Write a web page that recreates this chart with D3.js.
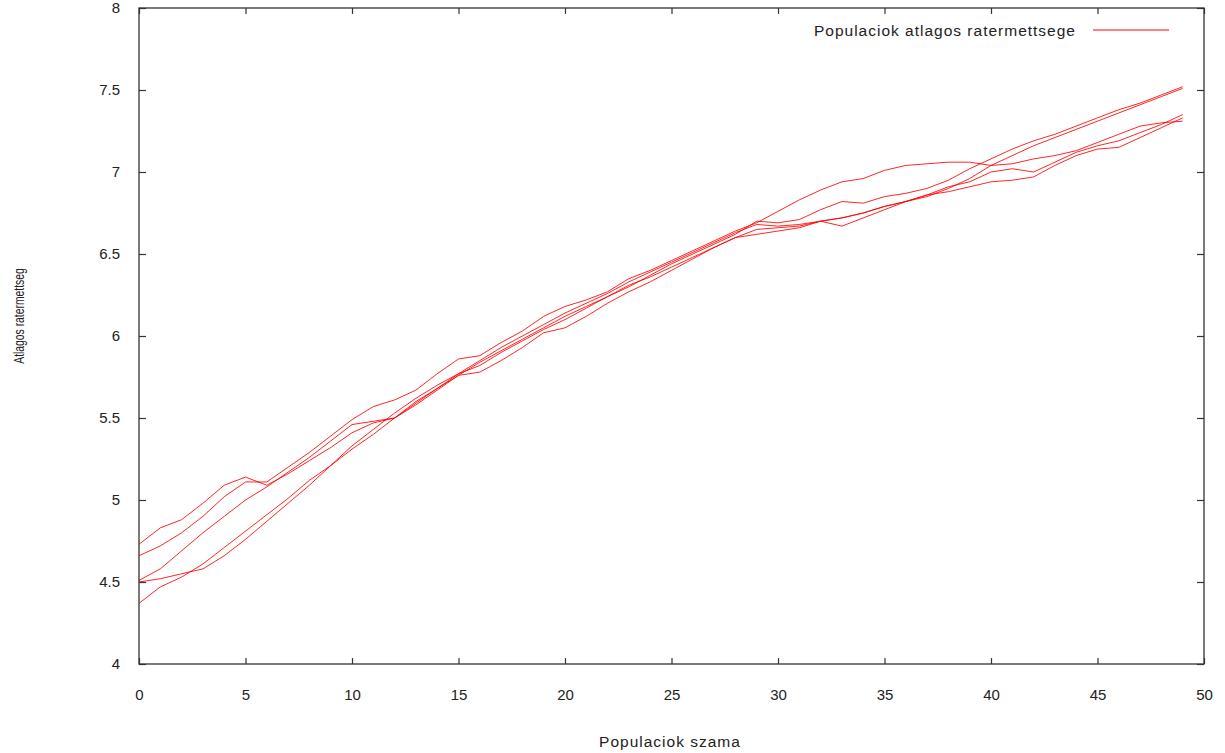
<!DOCTYPE html>
<html>
<head>
<meta charset="utf-8">
<script src="https://cdn.jsdelivr.net/npm/d3@7"></script>
<style>
  body { margin: 0; background: #fff; }
  .chart text { font-family: "Liberation Sans", Arial, sans-serif; fill: #222; }
</style>
</head>
<body>
<div class="chart"></div>
<script>
// x values: population index 0..49
var populations = d3.range(0, 50);

// five runs of the average fitness
var run1 = [4.73, 4.83, 4.88, 4.98, 5.09, 5.14, 5.09, 5.16, 5.24, 5.32,
            5.41, 5.47, 5.50, 5.58, 5.67, 5.76, 5.84, 5.91, 5.98, 6.05,
            6.12, 6.18, 6.24, 6.31, 6.36, 6.42, 6.48, 6.54, 6.60, 6.65,
            6.66, 6.67, 6.70, 6.72, 6.75, 6.79, 6.82, 6.85, 6.90, 6.96,
            7.04, 7.10, 7.16, 7.21, 7.26, 7.31, 7.36, 7.41, 7.46, 7.51];
var run2 = [4.66, 4.72, 4.80, 4.90, 5.02, 5.11, 5.11, 5.20, 5.29, 5.39,
            5.49, 5.57, 5.61, 5.67, 5.77, 5.86, 5.88, 5.96, 6.03, 6.12,
            6.18, 6.22, 6.27, 6.35, 6.40, 6.46, 6.52, 6.58, 6.64, 6.69,
            6.76, 6.83, 6.89, 6.94, 6.96, 7.01, 7.04, 7.05, 7.06, 7.06,
            7.04, 7.05, 7.08, 7.10, 7.13, 7.18, 7.23, 7.28, 7.30, 7.31];
var run3 = [4.51, 4.58, 4.69, 4.80, 4.90, 5.00, 5.08, 5.17, 5.26, 5.36,
            5.46, 5.48, 5.50, 5.59, 5.68, 5.77, 5.82, 5.90, 5.97, 6.04,
            6.10, 6.17, 6.24, 6.30, 6.37, 6.44, 6.50, 6.56, 6.62, 6.70,
            6.69, 6.71, 6.77, 6.82, 6.81, 6.85, 6.87, 6.90, 6.95, 7.02,
            7.08, 7.14, 7.19, 7.23, 7.28, 7.33, 7.38, 7.42, 7.47, 7.52];
var run4 = [4.50, 4.52, 4.55, 4.58, 4.66, 4.76, 4.87, 4.98, 5.09, 5.21,
            5.33, 5.43, 5.53, 5.62, 5.70, 5.77, 5.85, 5.93, 6.00, 6.07,
            6.14, 6.20, 6.26, 6.33, 6.39, 6.45, 6.51, 6.57, 6.63, 6.68,
            6.67, 6.68, 6.70, 6.67, 6.72, 6.77, 6.82, 6.86, 6.91, 6.94,
            7.00, 7.02, 7.00, 7.06, 7.12, 7.16, 7.19, 7.24, 7.29, 7.35];
var run5 = [4.37, 4.47, 4.53, 4.61, 4.71, 4.81, 4.91, 5.01, 5.12, 5.21,
            5.31, 5.40, 5.50, 5.60, 5.68, 5.76, 5.78, 5.85, 5.93, 6.02,
            6.05, 6.12, 6.20, 6.27, 6.33, 6.40, 6.47, 6.54, 6.60, 6.62,
            6.64, 6.66, 6.70, 6.72, 6.75, 6.79, 6.82, 6.86, 6.88, 6.91,
            6.94, 6.95, 6.97, 7.04, 7.10, 7.14, 7.15, 7.21, 7.27, 7.33];
var runs = [run1, run2, run3, run4, run5];

// ticks
var xTicks = [0, 5, 10, 15, 20, 25, 30, 35, 40, 45, 50];
var yTicks = [4, 4.5, 5, 5.5, 6, 6.5, 7, 7.5, 8];

var legendLabel = "Populaciok atlagos ratermettsege";
var xTitle = "Populaciok szama";
var yTitle = "Atlagos ratermettseg";

var svgWidth = 1225, svgHeight = 753;
var plotLeft = 139, plotRight = 1204, plotTop = 8, plotBottom = 664;

var svg = d3.select(".chart")
  .append("svg")
    .attr("width", svgWidth)
    .attr("height", svgHeight);

var x = d3.scaleLinear().domain([0, 50]).range([plotLeft, plotRight]);
var y = d3.scaleLinear().domain([4, 8]).range([plotBottom, plotTop]);

// the lines
var line = d3.line()
  .x(function(d, i) { return x(populations[i]); })
  .y(function(d) { return y(d); });

svg.append("g")
  .selectAll("path")
  .data(runs)
  .enter().append("path")
    .attr("d", line)
    .attr("fill", "none")
    .attr("stroke", "#ff0000")
    .attr("stroke-opacity", 0.85)
    .attr("stroke-width", 1);

// axes, ticks point inwards like gnuplot
var frameColor = "#333";
function styleAxis(g) {
  g.select(".domain").remove();
  g.selectAll(".tick line").attr("stroke", frameColor).attr("stroke-width", 1.2);
  g.selectAll(".tick text")
    .attr("fill", "#222")
    .style("font-size", "15px")
    .style("font-family", "'Liberation Sans', Arial, sans-serif");
}

svg.append("g")
  .attr("transform", "translate(0," + plotBottom + ")")
  .call(d3.axisBottom(x).tickValues(xTicks).tickSize(-6).tickPadding(25)
    .tickFormat(function(d) { return String(d); }))
  .call(styleAxis);

svg.append("g")
  .attr("transform", "translate(0," + plotTop + ")")
  .call(d3.axisTop(x).tickValues(xTicks).tickSize(-6).tickFormat(""))
  .call(styleAxis);

svg.append("g")
  .attr("transform", "translate(" + plotLeft + ",0)")
  .call(d3.axisLeft(y).tickValues(yTicks).tickSize(-7).tickPadding(19)
    .tickFormat(function(d) { return String(d); }))
  .call(styleAxis);

svg.append("g")
  .attr("transform", "translate(" + plotRight + ",0)")
  .call(d3.axisRight(y).tickValues(yTicks).tickSize(-7).tickFormat(""))
  .call(styleAxis);

// frame
svg.append("rect")
  .attr("x", plotLeft)
  .attr("y", plotTop)
  .attr("width", plotRight - plotLeft)
  .attr("height", plotBottom - plotTop)
  .attr("fill", "none")
  .attr("stroke", frameColor)
  .attr("stroke-width", 1.3);

// axis titles
svg.append("text")
  .attr("x", 670)
  .attr("y", 747)
  .style("text-anchor", "middle")
  .style("font-size", "15.5px")
  .style("letter-spacing", "1px")
  .text(xTitle);

svg.append("text")
  .attr("transform", "translate(24,316) rotate(-90) scale(0.74,1)")
  .style("text-anchor", "middle")
  .style("font-size", "14px")
  .text(yTitle);

// legend
svg.append("text")
  .attr("x", 1076)
  .attr("y", 36)
  .style("text-anchor", "end")
  .style("font-size", "15.5px")
  .style("letter-spacing", "1px")
  .text(legendLabel);

svg.append("line")
  .attr("x1", 1093)
  .attr("x2", 1169)
  .attr("y1", 30)
  .attr("y2", 30)
  .attr("stroke", "#ff0000")
  .attr("stroke-width", 1);
</script>
</body>
</html>
